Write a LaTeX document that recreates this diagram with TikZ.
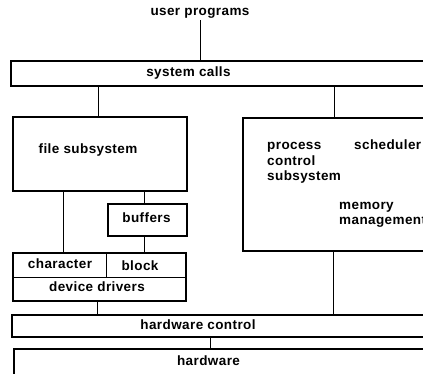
\documentclass[tikz,border=0pt]{standalone}
\usepackage{fontspec}
\setmainfont{Liberation Sans}[LetterSpace=3]
\begin{document}
\begin{tikzpicture}[x=1pt,y=-1pt]
  \clip (0,0) rectangle (423,374);

  \tikzstyle{layer}=[draw, line width=1.6pt, inner sep=0pt];
  \tikzstyle{caption}=[font=\bfseries\fontsize{13.5}{16}\selectfont, inner sep=0pt, text height=10pt, text depth=4pt];
  \tikzstyle{link}=[line width=0.8pt];

  \node (user) at (200,13)[caption]{user programs};

  \node (syscalls) at (225.5,73.5)[layer, minimum width=429pt, minimum height=25pt]{};
  \node (syscalls_text) at (188.5,73.5)[caption]{system calls};

  \node (filesys) at (100,154)[layer, minimum width=174pt, minimum height=74pt]{};
  \node (filesys_text) at (88,151)[caption]{file subsystem};

  \node (buffers) at (147.5,220)[layer, minimum width=79pt, minimum height=32pt]{};
  \node (buffers_text) at (146.5,220)[caption]{buffers};

  \node (devices) at (99.5,277)[layer, minimum width=173pt, minimum height=48pt]{};
  \node (char_text) at (60,266)[caption]{character};
  \node (block_text) at (140,267)[caption]{block};
  \node (devices_text) at (97,288)[caption]{device drivers};

  \node (process) at (341.5,184.5)[layer, minimum width=197pt, minimum height=133pt]{};
  \node (process_text) at (267,147)[caption, anchor=west]{process};
  \node (control_text) at (267,163)[caption, anchor=west]{control};
  \node (subsys_text) at (267,178)[caption, anchor=west]{subsystem};
  \node (sched_text) at (354,147)[caption, anchor=west]{scheduler};
  \node (memory_text) at (339,207)[caption, anchor=west]{memory};
  \node (manage_text) at (339,222)[caption, anchor=west]{management};

  \node (hwcontrol) at (226,326)[layer, minimum width=428pt, minimum height=22pt]{};
  \node (hwcontrol_text) at (198,326)[caption]{hardware control};

  \node (hardware) at (227,380)[layer, minimum width=426pt, minimum height=62pt]{};
  \node (hardware_text) at (208.5,362)[caption]{hardware};

  % inner lines of the driver box
  \draw[link] (devices.west |- 0,277) -- (devices.east |- 0,277);
  \draw[link] (devices.north -| 106,0) -- (106,277);

  \draw[link] (user) -- (syscalls.north -| user);
  \draw[link] (syscalls.south -| 98,0) -- (filesys.north -| 98,0);
  \draw[link] (syscalls.south -| 334,0) -- (process.north -| 334,0);

  \draw[link] (filesys.south -| 63,0) -- (devices.north -| 63,0);
  \draw[link] (filesys.south -| 144,0) -- (buffers.north -| 144,0);
  \draw[link] (buffers.south -| 144,0) -- (devices.north -| 144,0);

  \draw[link] (devices.south -| 97,0) -- (hwcontrol.north -| 97,0);
  \draw[link] (process.south -| 333,0) -- (hwcontrol.north -| 333,0);
  \draw[link] (hwcontrol.south -| 210,0) -- (hardware.north -| 210,0);
\end{tikzpicture}
\end{document}
